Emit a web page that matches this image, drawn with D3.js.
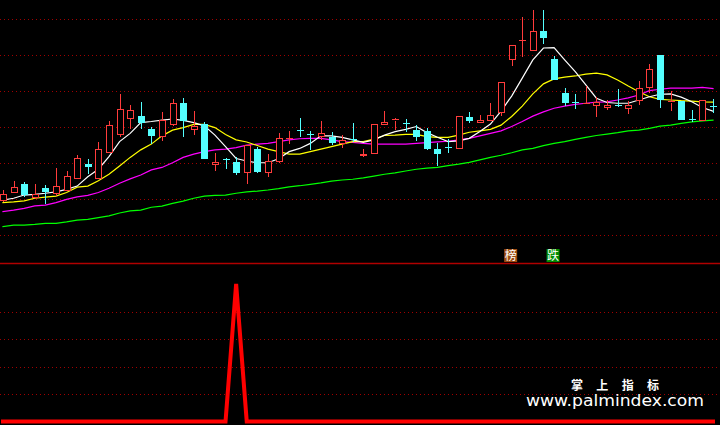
<!DOCTYPE html>
<html><head><meta charset="utf-8">
<script src="https://cdn.jsdelivr.net/npm/d3@7/dist/d3.min.js"></script>
<style>html,body{margin:0;padding:0;background:#000;overflow:hidden}</style>
</head><body><svg id="c" width="720" height="425"></svg>
<script>
// ---- data ----
const days = d3.range(1, 69);
const open  = [6.94,7.17,7.41,7.03,7.31,7.15,7.24,7.55,7.97,7.55,8.28,8.78,9.23,9.30,8.94,8.73,9.06,9.68,8.92,9.07,
               7.96,8.08,8.02,7.72,8.38,7.73,8.04,8.66,8.90,8.80,8.73,8.73,8.55,8.66,8.19,8.25,9.06,9.17,9.09,8.91,
               8.89,8.38,8.43,8.39,9.28,9.12,9.17,9.41,10.89,11.40,11.13,11.67,10.89,9.95,9.69,9.60,9.59,9.54,9.59,9.51,
               9.75,10.09,11.01,9.68,9.72,9.20,9.17,9.58];
const close = [7.12,7.32,7.09,7.12,7.19,7.33,7.62,8.12,7.88,8.38,9.05,9.49,9.46,9.11,8.76,9.19,9.66,9.16,9.00,8.11,
               8.02,8.04,7.72,8.49,7.75,8.04,8.68,8.69,8.87,8.77,8.82,8.54,8.63,8.63,8.24,9.08,9.12,9.20,9.06,8.73,
               8.38,8.25,8.41,9.28,9.17,9.19,9.33,10.24,11.28,11.42,11.67,11.49,10.31,9.68,9.68,9.64,9.68,9.60,9.57,9.60,
               10.08,10.59,9.75,9.72,9.19,9.18,9.75,9.54];
const high  = [7.24,7.49,7.46,7.41,7.37,7.85,7.77,8.21,8.11,8.58,9.16,9.92,9.61,9.69,9.00,9.42,9.78,9.81,9.44,9.13,
               8.26,8.13,8.15,8.50,8.43,8.24,8.83,8.89,9.25,8.89,9.17,8.86,8.77,9.11,8.38,9.09,9.44,9.26,9.22,9.05,
               8.97,8.55,8.66,9.29,9.42,9.32,9.67,10.25,11.29,12.07,12.26,12.26,10.98,10.09,9.92,10.14,9.84,9.74,10.06,9.72,
               10.28,10.75,11.01,9.99,9.72,9.47,9.75,9.78];
const low   = [6.91,7.16,7.04,7.00,6.85,7.07,7.21,7.54,7.69,7.54,8.27,8.73,8.95,8.94,8.52,8.62,9.03,8.71,8.77,8.10,
               7.78,7.83,7.67,7.42,7.72,7.61,7.99,8.52,8.73,8.36,8.64,8.50,8.42,8.58,8.15,8.24,9.05,8.91,8.86,8.62,
               8.36,7.92,8.28,8.38,9.12,9.11,9.16,9.31,10.71,10.96,11.12,11.30,10.30,9.58,9.49,9.60,9.27,9.48,9.56,9.36,
               9.60,9.94,9.54,9.43,9.19,9.15,9.17,9.38];
const ma5   = [6.96,7.01,7.10,7.12,7.15,7.19,7.26,7.35,7.61,7.82,8.17,8.59,8.82,9.12,9.15,9.19,9.22,9.18,9.12,9.03,
               8.77,8.45,8.12,8.05,8.00,8.00,8.11,8.31,8.40,8.54,8.75,8.75,8.71,8.64,8.57,8.64,8.77,8.87,8.93,9.01,
               8.84,8.71,8.59,8.61,8.68,8.87,9.08,9.44,9.86,10.36,10.87,11.20,11.21,10.87,10.54,10.17,9.80,9.68,9.66,9.66,
               9.75,9.84,9.91,9.92,9.83,9.70,9.54,9.44];
const ma10  = [6.89,6.91,6.94,7.01,7.04,7.07,7.17,7.32,7.35,7.50,7.68,7.91,8.15,8.36,8.52,8.75,8.91,8.98,9.07,9.07,
               8.98,8.79,8.64,8.58,8.48,8.38,8.31,8.24,8.24,8.31,8.38,8.45,8.52,8.59,8.59,8.66,8.76,8.77,8.79,8.79,
               8.73,8.71,8.71,8.77,8.85,8.89,8.93,9.05,9.29,9.58,9.92,10.20,10.34,10.39,10.42,10.47,10.50,10.45,10.31,10.14,
               9.98,9.84,9.77,9.75,9.73,9.72,9.70,9.69];
const ma20  = [6.64,6.68,6.73,6.80,6.82,6.89,6.98,7.05,7.09,7.17,7.29,7.43,7.55,7.66,7.80,7.87,8.00,8.15,8.24,8.31,
               8.36,8.38,8.42,8.49,8.52,8.54,8.59,8.64,8.67,8.68,8.68,8.64,8.59,8.57,8.54,8.52,8.52,8.52,8.52,8.54,
               8.56,8.58,8.60,8.64,8.68,8.75,8.82,8.89,9.01,9.15,9.30,9.42,9.52,9.58,9.63,9.66,9.69,9.70,9.75,9.81,
               9.89,10.01,10.05,10.08,10.08,10.08,10.10,10.07];
const ma60  = [6.22,6.26,6.26,6.28,6.31,6.31,6.35,6.40,6.42,6.47,6.52,6.60,6.66,6.68,6.76,6.79,6.87,6.93,7.01,7.07,
               7.09,7.10,7.15,7.19,7.21,7.24,7.28,7.33,7.36,7.40,7.44,7.49,7.52,7.54,7.58,7.63,7.68,7.72,7.77,7.82,
               7.85,7.87,7.92,7.96,8.01,8.08,8.15,8.21,8.28,8.36,8.40,8.48,8.54,8.59,8.65,8.71,8.76,8.80,8.84,8.89,
               8.91,8.96,9.02,9.05,9.10,9.14,9.17,9.19];
const signal = [0,0,0,0,0,0,0,0,0,0,0,0,0,0,0,0,0,0,0,0,
                0,0,100,0,0,0,0,0,0,0,0,0,0,0,0,0,0,0,0,0,
                0,0,0,0,0,0,0,0,0,0,0,0,0,0,0,0,0,0,0,0,
                0,0,0,0,0,0,0,0];
const priceTicks  = [6, 7, 8, 9, 10, 11, 12];
const signalTicks = [20, 40, 60, 80];
const markDays  = [49, 53];
const markTexts = ["榜", "跌"];
const brandTitle = "掌上指标";
const brandUrl   = "www.palmindex.com";

// ---- drawing ----
const W = 720, H = 425;
const svg = d3.select("#c");
svg.append("rect").attr("width", W).attr("height", H).attr("fill", "#000");

const x = d3.scalePoint().domain(days).range([3, 713]);
const yP = d3.scaleLinear().domain([6, 12]).range([234.5, 19.3]);
const yS = d3.scaleLinear().domain([0, 100]).range([421.5, 284]);

const gridColor = "#a00000";
function hgrid(ticks, scale) {
  svg.append("g").selectAll("line").data(ticks).join("line")
    .attr("x1", 0).attr("x2", W)
    .attr("y1", d => Math.round(scale(d)) + 0.5).attr("y2", d => Math.round(scale(d)) + 0.5)
    .attr("stroke", gridColor).attr("stroke-width", 1).attr("stroke-dasharray", "1,3")
    .attr("shape-rendering", "crispEdges");
}
hgrid(priceTicks, yP);
hgrid(signalTicks, yS);

// panel divider
svg.append("line").attr("x1", 0).attr("x2", W).attr("y1", 263.5).attr("y2", 263.5)
  .attr("stroke", "#b00000").attr("stroke-width", 1.5);

// moving averages
const maSeries = [[ma60, "#00ff00"], [ma20, "#ff00ff"], [ma10, "#ffff00"], [ma5, "#ffffff"]];
maSeries.forEach(([vals, col]) => {
  const line = d3.line().x((d, i) => x(days[i])).y(d => yP(d));
  svg.append("path").attr("d", line(vals)).attr("fill", "none")
    .attr("stroke", col).attr("stroke-width", 1.2).attr("stroke-linecap", "square");
});

// candles
const RED = "#ff3c3c", CYAN = "#54ffff";
const cg = svg.append("g").attr("shape-rendering", "crispEdges");
days.forEach((d, i) => {
  const cx = Math.round(x(d)) + 0.5;
  const o = open[i], c = close[i];
  const top = yP(Math.max(o, c)), bot = yP(Math.min(o, c));
  const hi = yP(high[i]), lo = yP(low[i]);
  const up = c >= o;
  const col = up ? RED : CYAN;
  if (up) {
    if (hi < top) cg.append("line").attr("x1", cx).attr("x2", cx).attr("y1", hi).attr("y2", top).attr("stroke", col);
    if (lo > bot) cg.append("line").attr("x1", cx).attr("x2", cx).attr("y1", bot).attr("y2", lo).attr("stroke", col);
    if (bot - top < 1.5) {
      cg.append("line").attr("x1", cx - 3.5).attr("x2", cx + 3.5).attr("y1", top).attr("y2", top).attr("stroke", col);
    } else {
      cg.append("rect").attr("x", cx - 3).attr("y", top).attr("width", 6).attr("height", bot - top)
        .attr("fill", "#000").attr("stroke", col);
    }
  } else {
    cg.append("line").attr("x1", cx).attr("x2", cx).attr("y1", hi).attr("y2", lo).attr("stroke", col);
    if (bot - top < 1.5) {
      cg.append("line").attr("x1", cx - 3.5).attr("x2", cx + 3.5).attr("y1", top).attr("y2", top).attr("stroke", col);
    } else {
      cg.append("rect").attr("x", cx - 3.5).attr("y", top).attr("width", 7).attr("height", bot - top)
        .attr("fill", col);
    }
  }
});

// text marks
const markColors = ["#9c4a10", "#008c00"];
markDays.forEach((d, k) => {
  const cx = x(d) - 1;
  svg.append("rect").attr("x", cx - 6.5).attr("y", 249).attr("width", 13).attr("height", 13)
    .attr("fill", markColors[k]);
  svg.append("text").attr("x", cx).attr("y", 260).attr("text-anchor", "middle")
    .attr("font-family", "'Noto Sans CJK SC', sans-serif").attr("font-size", 12)
    .attr("fill", "#fff").text(markTexts[k]);
});

// bottom indicator
const sline = d3.line().x((d, i) => x(days[i])).y(d => yS(d));
svg.append("path").attr("d", sline(signal)).attr("fill", "none")
  .attr("stroke", "#ff0000").attr("stroke-width", 4).attr("stroke-linejoin", "miter")
  .attr("stroke-linecap", "square");

// watermark
svg.append("text").attr("x", 571).attr("y", 389.5)
  .attr("font-family", "'Noto Sans CJK SC', sans-serif").attr("font-size", 12).attr("font-weight", "bold")
  .attr("fill", "#fff").attr("textLength", 88).attr("lengthAdjust", "spacing").text(brandTitle);
svg.append("text").attr("x", 526).attr("y", 405.5)
  .attr("font-family", "'DejaVu Sans', sans-serif").attr("font-size", 15)
  .attr("fill", "#fff").attr("textLength", 178).attr("lengthAdjust", "spacingAndGlyphs").text(brandUrl);
</script></body></html>
